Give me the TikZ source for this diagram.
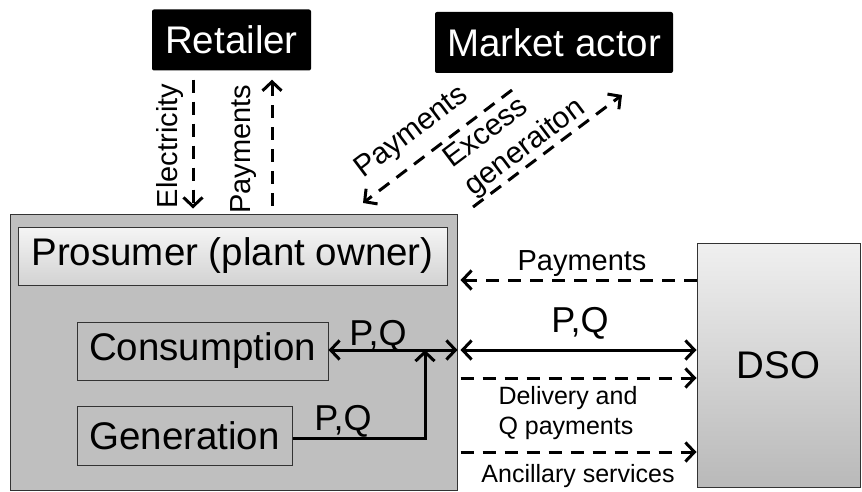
\documentclass[tikz,border=0pt]{standalone}
\usepackage{fontspec}
\setmainfont{Liberation Sans}
\usetikzlibrary{arrows.meta}
\definecolor{boxgray}{gray}{0.75}

\begin{document}
\begin{tikzpicture}[x=1pt,y=1pt,
  >={Straight Barb[length=9pt,width=19pt]},
  actor/.style={fill=black,text=white,rounded corners=2pt,inner sep=0pt,
    font=\fontsize{38.5}{42}\selectfont},
  block/.style={draw=black!80,line width=1pt,inner sep=0pt,
    font=\fontsize{38.5}{42}\selectfont},
  flow/.style={line width=3pt,dash pattern=on 13pt off 9pt},
  power/.style={line width=3pt},
  lbl/.style={inner sep=0pt,font=\fontsize{29}{32}\selectfont},
  ]
  \useasboundingbox (0,0) rectangle (862,-492);
  % actors on top
  \node[actor,minimum width=159,minimum height=61] (retailer) at (231.5,-40) {Retailer};
  \node[actor,minimum width=238,minimum height=61] (market) at (554,-42.5) {Market actor};
  % prosumer and its parts
  \node[block,fill=boxgray,minimum width=447,minimum height=276] (prosumer) at (233.5,-352) {};
  \node[block,top color=gray!8,bottom color=gray!35,minimum width=429,minimum height=58] (owner) at (232.5,-256) {Prosumer (plant owner)};
  \node[block,minimum width=251,minimum height=58] (cons) at (202.5,-351) {Consumption};
  \node[block,minimum width=215,minimum height=59] (gen) at (184.5,-435.5) {Generation};
  % grid operator
  \node[block,top color=gray!12,bottom color=gray!55,minimum width=163,minimum height=244] (dso) at (778.5,-365) {DSO};

  % retailer <-> prosumer
  \draw[flow,->,shorten <=9pt,shorten >=5pt] ([xshift=-38.5pt]retailer.south) -- ([xshift=-38.5pt]retailer.south |- prosumer.north);
  \draw[flow,<-,shorten <=9pt,shorten >=5pt] ([xshift=40.5pt]retailer.south) -- ([xshift=40.5pt]retailer.south |- prosumer.north);
  \node[lbl,rotate=90] (elec) at (170,-146) {Electricity};
  \node[lbl,rotate=90] (rpay) at (244,-149) {Payments};

  % market actor <-> prosumer
  \coordinate (mpayA) at (512,-90);
  \coordinate (mpayB) at (363,-203);
  \coordinate (excA) at (473,-207);
  \coordinate (excB) at (622,-95);
  \draw[flow,->] (mpayA) -- (mpayB);
  \draw[flow,->] (excA) -- (excB);
  \node[lbl,rotate=37,font=\fontsize{30}{35}\selectfont] (mpay) at (412,-133) {Payments};
  \node[lbl,rotate=37,align=left,font=\fontsize{30}{35}\selectfont] (exc) at (515,-134) {Excess\\generaiton};

  % inside the prosumer
  \coordinate (bus) at (425,-350);
  \draw[power,<->] (cons.east |- bus) -- (prosumer.east |- bus);
  \draw[power,->] (gen.east |- 0,-438) -| (bus);
  \node[lbl,anchor=base,font=\fontsize{36}{40}\selectfont] (pq1) at (378,-345) {P,Q};
  \node[lbl,anchor=base,font=\fontsize{36}{40}\selectfont] (pq2) at (343,-430) {P,Q};

  % prosumer <-> DSO
  \draw[flow,<-] ([xshift=3pt]prosumer.east |- 0,-280) -- (dso.west |- 0,-280);
  \draw[power,<->] ([xshift=3pt]prosumer.east |- bus) -- (dso.west |- bus);
  \draw[flow,->] ([xshift=3pt]prosumer.east |- 0,-378) -- (dso.west |- 0,-378);
  \draw[flow,->] ([xshift=3pt]prosumer.east |- 0,-452) -- (dso.west |- 0,-452);
  \node[lbl,anchor=base] (dpay) at (582,-270) {Payments};
  \node[lbl,anchor=base,font=\fontsize{36}{40}\selectfont] (pq3) at (580,-332) {P,Q};
  \node[lbl,align=left,font=\fontsize{25}{30}\selectfont] (deliv) at (568,-413) {Delivery and\\Q payments};
  \node[lbl,anchor=base,font=\fontsize{25}{30}\selectfont] (anc) at (578,-482) {Ancillary services};
\end{tikzpicture}
\end{document}
